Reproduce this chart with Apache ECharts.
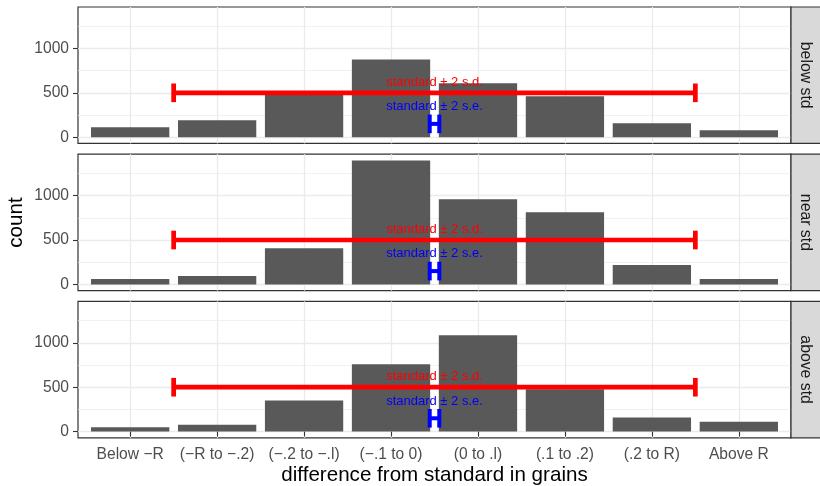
<!DOCTYPE html>
<html><head><meta charset="utf-8">
<script src="https://cdn.jsdelivr.net/npm/echarts@6/dist/echarts.min.js"></script>
<style>html,body{margin:0;padding:0;background:#fff}#c{width:820px;height:486px}</style>
</head><body><div id="c"></div>
<script>
// ---- data ----
const categories = ['Below \u2212R', '(\u2212R to \u2212.2)', '(\u2212.2 to \u2212.l)', '(\u2212.1 to 0)', '(0 to .l)', '(.1 to .2)', '(.2 to R)', 'Above R'];
const xPositions = [1, 2, 3, 4, 5, 6, 7, 8];
const facetNames = ['below std', 'near std', 'above std'];
const belowStd = [112, 191, 480, 876, 607, 461, 157, 79];
const nearStd = [60, 94, 408, 1397, 960, 814, 218, 60];
const aboveStd = [48, 78, 349, 758, 1085, 476, 160, 111];
const yTicks = [0, 500, 1000];
const yMinorTicks = [250, 750, 1250];
const sdBar = [1.5, 7.5, 500];      // xmin, xmax, y
const seBar = [4.445, 4.555, 150];  // xmin, xmax, y
const sdLabel = [4.5, 620, 'standard \u00b1 2 s.d.'];
const seLabel = [4.5, 345, 'standard \u00b1 2 s.e.'];
const yTitle = 'count';
const xTitle = 'difference from standard in grains';

// ---- layout / style ----
const FONT = "'Liberation Sans', Arial, Helvetica, sans-serif";
const facetValues = [belowStd, nearStd, aboveStd];
const panelTops = [7, 154.2, 301.4];
const panelH = 136.4;
const panelLeft = 78, panelW = 713;
const Y_MIN = -70, Y_MAX = 1467;
const CAP = 105;

function errRender(color, lw) {
  return function (params, api) {
    const x1 = api.value(0), x2 = api.value(1), y = api.value(2);
    const p1 = api.coord([x1, y]), p2 = api.coord([x2, y]);
    const t = api.coord([x1, y + CAP])[1], b = api.coord([x1, y - CAP])[1];
    const st = { stroke: color, lineWidth: lw, lineCap: 'butt' };
    return { type: 'group', children: [
      { type: 'line', shape: { x1: p1[0], y1: p1[1], x2: p2[0], y2: p2[1] }, style: st },
      { type: 'line', shape: { x1: p1[0], y1: t, x2: p1[0], y2: b }, style: st },
      { type: 'line', shape: { x1: p2[0], y1: t, x2: p2[0], y2: b }, style: st }
    ]};
  };
}
function textRender(color) {
  return function (params, api) {
    const p = api.coord([api.value(0), api.value(1)]);
    return { type: 'text', x: p[0], y: p[1], style: {
      text: api.value(2), fill: color, fontSize: 13, fontFamily: FONT,
      align: 'center', verticalAlign: 'middle', textAlign: 'center', textVerticalAlign: 'middle' } };
  };
}

const grid = [], xAxis = [], yAxis = [], series = [], graphic = [];
facetNames.forEach((name, i) => {
  const isBottom = i === facetNames.length - 1;
  grid.push({ left: panelLeft, width: panelW, top: panelTops[i], height: panelH, show: true,
    borderColor: '#333333', borderWidth: 1.2, backgroundColor: '#ffffff', outerBoundsMode: 'none', containLabel: false });
  xAxis.push({ gridIndex: i, type: 'value', min: 0.4, max: 8.6,
    axisLine: { show: false },
    axisTick: { show: isBottom, customValues: xPositions, length: 5, lineStyle: { color: '#333333', width: 1.1 } },
    axisLabel: { show: isBottom, customValues: xPositions, formatter: v => categories[Math.round(v) - 1],
      color: '#4D4D4D', fontSize: 15.6, fontFamily: FONT, margin: 8.5 },
    splitLine: { show: true, lineStyle: { color: '#EBEBEB', width: 1.3 } } });
  yAxis.push({ gridIndex: i, type: 'value', min: Y_MIN, max: Y_MAX, position: 'left',
    axisLine: { show: false },
    axisTick: { show: true, customValues: yTicks, length: 5, lineStyle: { color: '#333333', width: 1.1 } },
    axisLabel: { customValues: yTicks, formatter: v => String(v), color: '#4D4D4D', fontSize: 15.6, fontFamily: FONT, margin: 9 },
    splitLine: { show: true, lineStyle: { color: '#EBEBEB', width: 1.3 } } });
  yAxis.push({ gridIndex: i, type: 'value', min: Y_MIN, max: Y_MAX, position: 'left',
    axisLine: { show: false },
    axisTick: { show: false, customValues: yMinorTicks },
    axisLabel: { show: false, customValues: yMinorTicks },
    splitLine: { show: true, lineStyle: { color: '#EBEBEB', width: 0.7 } } });
  series.push({ type: 'bar', xAxisIndex: i, yAxisIndex: 2 * i, barWidth: 78.3, z: 2,
    itemStyle: { color: '#595959' }, silent: true,
    data: xPositions.map((x, j) => [x, facetValues[i][j]]) });
  series.push({ type: 'custom', xAxisIndex: i, yAxisIndex: 2 * i, z: 3, silent: true,
    renderItem: errRender('#FF0000', 4.7), data: [sdBar] });
  series.push({ type: 'custom', xAxisIndex: i, yAxisIndex: 2 * i, z: 4, silent: true,
    renderItem: textRender('#FF0000'), dimensions: ['x', 'y', 'label'], data: [sdLabel] });
  series.push({ type: 'custom', xAxisIndex: i, yAxisIndex: 2 * i, z: 4, silent: true,
    renderItem: textRender('#0000FF'), dimensions: ['x', 'y', 'label'], data: [seLabel] });
  series.push({ type: 'custom', xAxisIndex: i, yAxisIndex: 2 * i, z: 5, silent: true,
    renderItem: errRender('#0000FF', 4), data: [seBar] });
  // strip
  graphic.push({ type: 'rect', shape: { x: 791, y: panelTops[i], width: 30, height: panelH },
    style: { fill: '#D9D9D9', stroke: '#333333', lineWidth: 1.2 }, z: 10 });
  graphic.push({ type: 'text', x: 805.5, y: panelTops[i] + panelH / 2, rotation: -Math.PI / 2,
    style: { text: name, fill: '#1A1A1A', fontSize: 15.8, fontFamily: FONT, align: 'center', verticalAlign: 'middle' }, z: 11 });
});
graphic.push({ type: 'text', x: 16.5, y: 222.5, rotation: Math.PI / 2,
  style: { text: yTitle, fill: '#000000', fontSize: 20.6, fontFamily: FONT, align: 'center', verticalAlign: 'middle' } });
graphic.push({ type: 'text', x: panelLeft + panelW / 2, y: 475.5,
  style: { text: xTitle, fill: '#000000', fontSize: 20.6, fontFamily: FONT, align: 'center', verticalAlign: 'middle' } });

const chart = echarts.init(document.getElementById('c'), null, { renderer: 'canvas' });
chart.setOption({ animation: false, backgroundColor: '#ffffff', grid, xAxis, yAxis, series, graphic });
</script></body></html>
